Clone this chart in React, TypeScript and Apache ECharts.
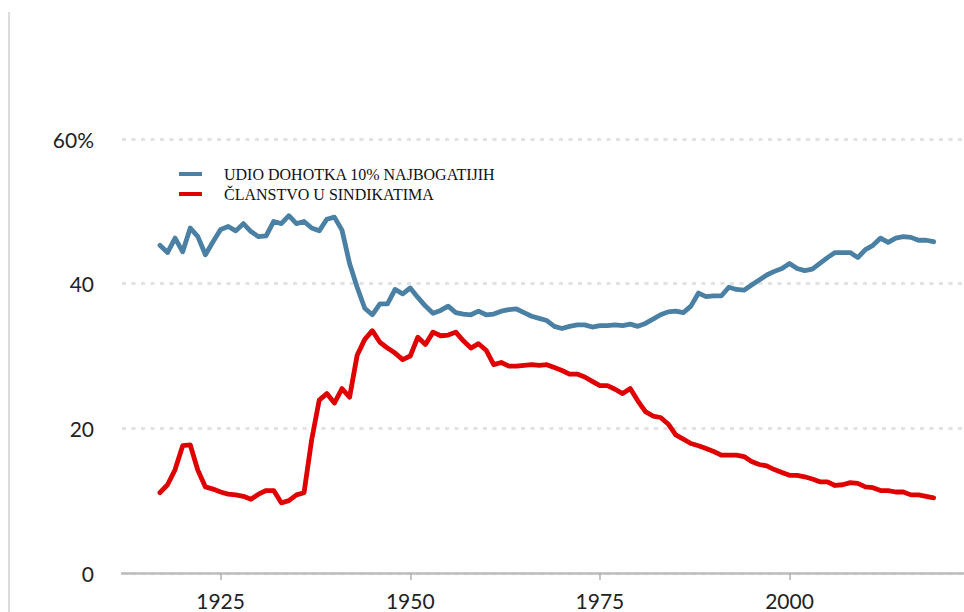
import React, { useEffect, useRef } from "react";
import * as echarts from "echarts";

const startYear = 1917;
const topShare = [
  45.3, 44.3, 46.3, 44.4, 47.7, 46.5, 44.0, 45.8, 47.5, 47.9,
  47.3, 48.3, 47.2, 46.5, 46.6, 48.6, 48.3, 49.4, 48.3, 48.6,
  47.7, 47.3, 48.9, 49.2, 47.4, 42.8, 39.5, 36.6, 35.7, 37.2,
  37.2, 39.2, 38.6, 39.4, 38.1, 36.9, 35.9, 36.3, 36.9, 36.0,
  35.8, 35.7, 36.2, 35.7, 35.8, 36.2, 36.4, 36.5, 36.0, 35.5,
  35.2, 34.9, 34.1, 33.8, 34.1, 34.3, 34.3, 34.0, 34.2, 34.2,
  34.3, 34.2, 34.4, 34.1, 34.5, 35.1, 35.7, 36.1, 36.2, 36.0,
  36.9, 38.7, 38.2, 38.3, 38.3, 39.5, 39.2, 39.1, 39.8, 40.5,
  41.2, 41.7, 42.1, 42.8, 42.1, 41.8, 42.0, 42.8, 43.6, 44.3,
  44.3, 44.3, 43.6, 44.7, 45.3, 46.3, 45.7, 46.3, 46.5, 46.4,
  46.0, 46.0, 45.8,
];
const unionMembership = [
  11.1, 12.2, 14.3, 17.6, 17.7, 14.2, 11.9, 11.6, 11.2, 10.9,
  10.8, 10.6, 10.2, 10.9, 11.4, 11.4, 9.7, 10.0, 10.8, 11.1,
  18.4, 23.9, 24.8, 23.5, 25.5, 24.3, 30.1, 32.3, 33.5, 31.9,
  31.1, 30.4, 29.5, 30.0, 32.6, 31.6, 33.3, 32.8, 32.9, 33.3,
  32.1, 31.1, 31.7, 30.8, 28.8, 29.1, 28.6, 28.6, 28.7, 28.8,
  28.7, 28.8, 28.4, 28.0, 27.5, 27.5, 27.1, 26.5, 25.9, 25.9,
  25.4, 24.8, 25.5, 23.8, 22.3, 21.7, 21.5, 20.6, 19.1, 18.5,
  17.9, 17.6, 17.2, 16.8, 16.3, 16.3, 16.3, 16.1, 15.4, 15.0,
  14.8, 14.3, 13.9, 13.5, 13.5, 13.3, 13.0, 12.6, 12.6, 12.1,
  12.2, 12.5, 12.4, 11.9, 11.8, 11.4, 11.4, 11.2, 11.2, 10.8,
  10.8, 10.6, 10.4,
];
const xTickYears = [1925, 1950, 1975, 2000];
const yTicks = [0, 20, 40, 60];
const seriesNames = ["UDIO DOHOTKA 10% NAJBOGATIJIH", "ČLANSTVO U SINDIKATIMA"];
const seriesColors = ["#4a80a4", "#e00000"];

export default function App() {
  const ref = useRef<HTMLDivElement>(null);
  useEffect(() => {
    if (!ref.current) return;
    const chart = echarts.init(ref.current, undefined, { renderer: "svg" });
    const toPairs = (arr: number[]) => arr.map((v, i) => [startYear + i, v]);
    chart.setOption({
      animation: false,
      backgroundColor: "#ffffff",
      grid: { left: 122, right: 0, top: 139, bottom: 39, containLabel: false },
      legend: {
        orient: "vertical",
        left: 179,
        top: 166,
        padding: 0,
        itemWidth: 23,
        itemHeight: 4,
        itemGap: 4,
        icon: "rect",
        selectedMode: false,
        data: seriesNames,
        textStyle: {
          fontFamily: "Liberation Serif",
          fontSize: 16,
          lineHeight: 16,
          color: "#111111",
          padding: [0, 0, 0, 17],
        },
      },
      graphic: [
        {
          type: "line",
          shape: { x1: 9, y1: 12, x2: 9, y2: 612 },
          style: { stroke: "#dcdcdc", lineWidth: 2 },
          silent: true,
        },
      ],
      xAxis: {
        type: "value",
        min: 1912,
        max: 2023,
        axisLine: { show: true, lineStyle: { color: "#bdbdbd", width: 2.5 } },
        axisTick: {
          show: true,
          length: 7,
          customValues: xTickYears,
          lineStyle: { color: "#b0b0b0", width: 1.5 },
        },
        axisLabel: {
          customValues: xTickYears,
          fontFamily: "Lato",
          fontSize: 21,
          color: "#222222",
          margin: 17,
          formatter: (v: number) => String(v),
        },
        splitLine: { show: false },
      },
      yAxis: {
        type: "value",
        min: 0,
        max: 60,
        interval: 20,
        axisLine: { show: false },
        axisTick: { show: false },
        axisLabel: {
          fontFamily: "Lato",
          fontSize: 21,
          color: "#222222",
          margin: 28,
          formatter: (v: number) => (v === yTicks[3] ? v + "%" : String(v)),
        },
        splitLine: {
          show: true,
          lineStyle: { color: "#e2e2e2", width: 3, type: [4, 5.5] },
        },
      },
      series: [
        {
          name: seriesNames[0],
          type: "line",
          data: toPairs(topShare),
          showSymbol: false,
          symbol: "none",
          lineStyle: { color: seriesColors[0], width: 4.8, join: "round", cap: "round" },
          itemStyle: { color: seriesColors[0] },
          z: 3,
        },
        {
          name: seriesNames[1],
          type: "line",
          data: toPairs(unionMembership),
          showSymbol: false,
          symbol: "none",
          lineStyle: { color: seriesColors[1], width: 4.8, join: "round", cap: "round" },
          itemStyle: { color: seriesColors[1] },
          z: 3,
        },
      ],
    });
    return () => chart.dispose();
  }, []);
  return (
    <div
      ref={ref}
      style={{ position: "fixed", left: 0, top: 0, width: 964, height: 612 }}
    />
  );
}
